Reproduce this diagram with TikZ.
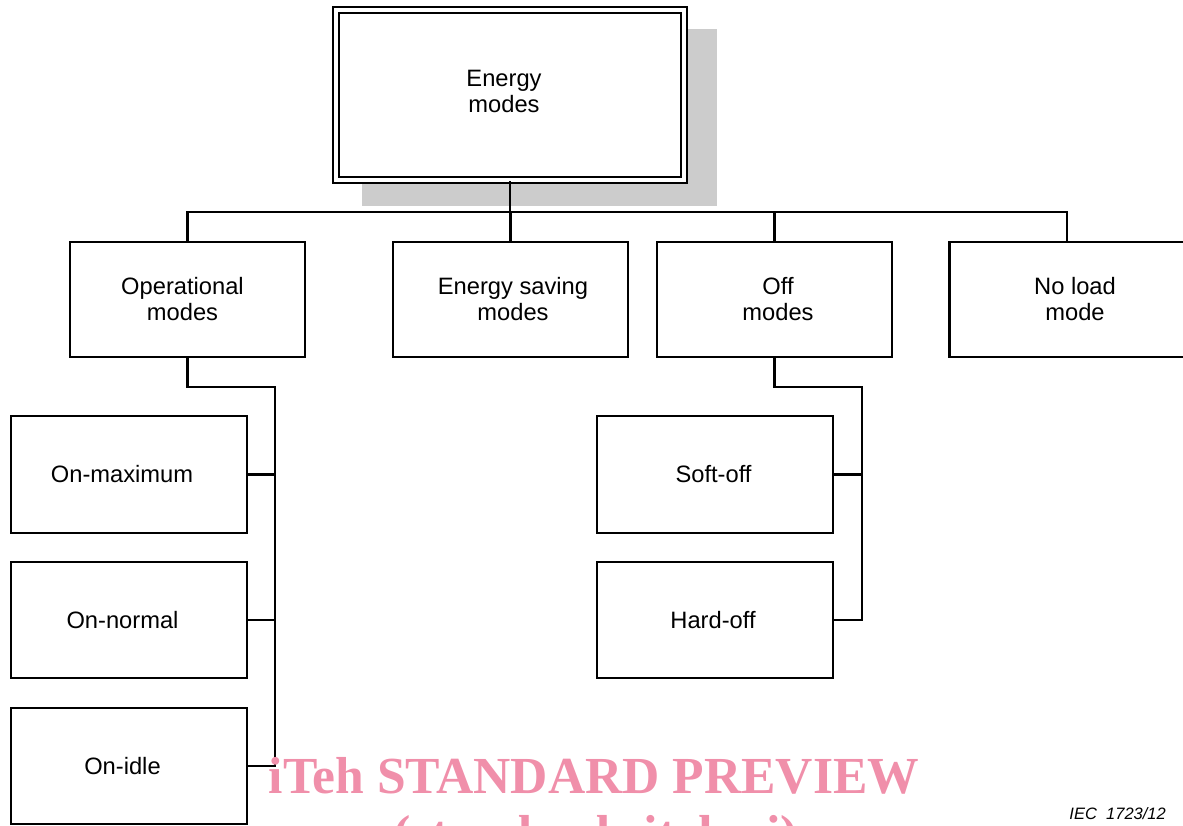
\documentclass[tikz,border=0pt]{standalone}
\usepackage{fontspec}
\setmainfont{Liberation Sans}
\newfontfamily\wmfont{Liberation Serif}
\definecolor{shadowgray}{RGB}{204,204,204}
\definecolor{wmpink}{RGB}{240,143,170}
\begin{document}
\begin{tikzpicture}[x=1pt,y=-1pt,
  box/.style={draw=black, line width=2.4pt, fill=white, minimum width=235pt, minimum height=115pt,
    inner sep=0pt},
  lbl/.style={align=center, inner sep=0pt, font=\fontsize{23.7}{26}\selectfont},
  tx/.style 2 args={label={[lbl, xshift=#1]center:{#2}}},
  conn/.style={draw=black, line width=2.2pt},
  wm/.style={text=wmpink, font=\wmfont\bfseries\fontsize{52}{57}\selectfont, inner sep=0pt}]
\useasboundingbox (0,0) rectangle (1183,825);
% shadow of top box
\fill[shadowgray] (362,29) rectangle (717,206);
% top box
\node[draw=black, double=white, line width=2pt, double distance=3.6pt, fill=white,
  minimum width=348pt, minimum height=170pt, inner sep=0pt,
  label={[lbl, xshift=-6pt, yshift=4pt]center:{Energy\\modes}}] (top) at (510,95) {};
% second level
\node[box, tx={-5pt}{Operational\\modes}]   (op)  at (187.5,299.5) {};
\node[box, tx={2.5pt}{Energy saving\\modes}] (es)  at (510.5,299.5) {};
\node[box, tx={3.5pt}{Off\\modes}]           (off) at (774.5,299.5) {};
\node[box, tx={8pt}{No load\\mode}]          (nl)  at (1067,299.5) {};
% third level
\node[box, minimum width=236pt, minimum height=117pt, tx={-7pt}{On-maximum}] (max)  at (129,474.5) {};
\node[box, minimum width=236pt, minimum height=116pt, tx={-6.5pt}{On-normal}] (norm) at (129,620) {};
\node[box, minimum width=236pt, minimum height=116pt, tx={-6.5pt}{On-idle}] (idle) at (129,766) {};
\node[box, minimum width=236pt, minimum height=117pt, tx={-1.5pt}{Soft-off}] (soft) at (715,474.5) {};
\node[box, minimum width=236pt, minimum height=116pt, tx={-2pt}{Hard-off}] (hard) at (715,620) {};
% bus coordinates
\coordinate (bus) at (0,212);
\coordinate (opbus) at (275,387);
\coordinate (offbus) at (862,387);
% connectors
\draw[conn] (top.south) -- (top.south |- bus);
\draw[conn] (op.north) |- (nl.north |- bus) -- (nl.north);
\draw[conn] (es.north) -- (es.north |- bus);
\draw[conn] (off.north) -- (off.north |- bus);
\draw[conn] (op.south) |- (opbus) -- (opbus |- idle.east) -- (idle.east);
\draw[conn] (max.east) -- (max.east -| opbus);
\draw[conn] (norm.east) -- (norm.east -| opbus);
\draw[conn] (off.south) |- (offbus) -- (offbus |- hard.east) -- (hard.east);
\draw[conn] (soft.east) -- (soft.east -| offbus);
% watermark
\node[wm, anchor=base] (wm1) at (594,793) {\scalebox{0.992}[1]{iTeh STANDARD PREVIEW}};
\node[wm, anchor=base] (wm2) at (596,851) {(standards.iteh.ai)};
% figure label
\node[anchor=base east, inner sep=0pt, font=\itshape\fontsize{16.5}{19}\selectfont] (iec) at (1166,819) {IEC\ \ 1723/12};
\end{tikzpicture}
\end{document}
